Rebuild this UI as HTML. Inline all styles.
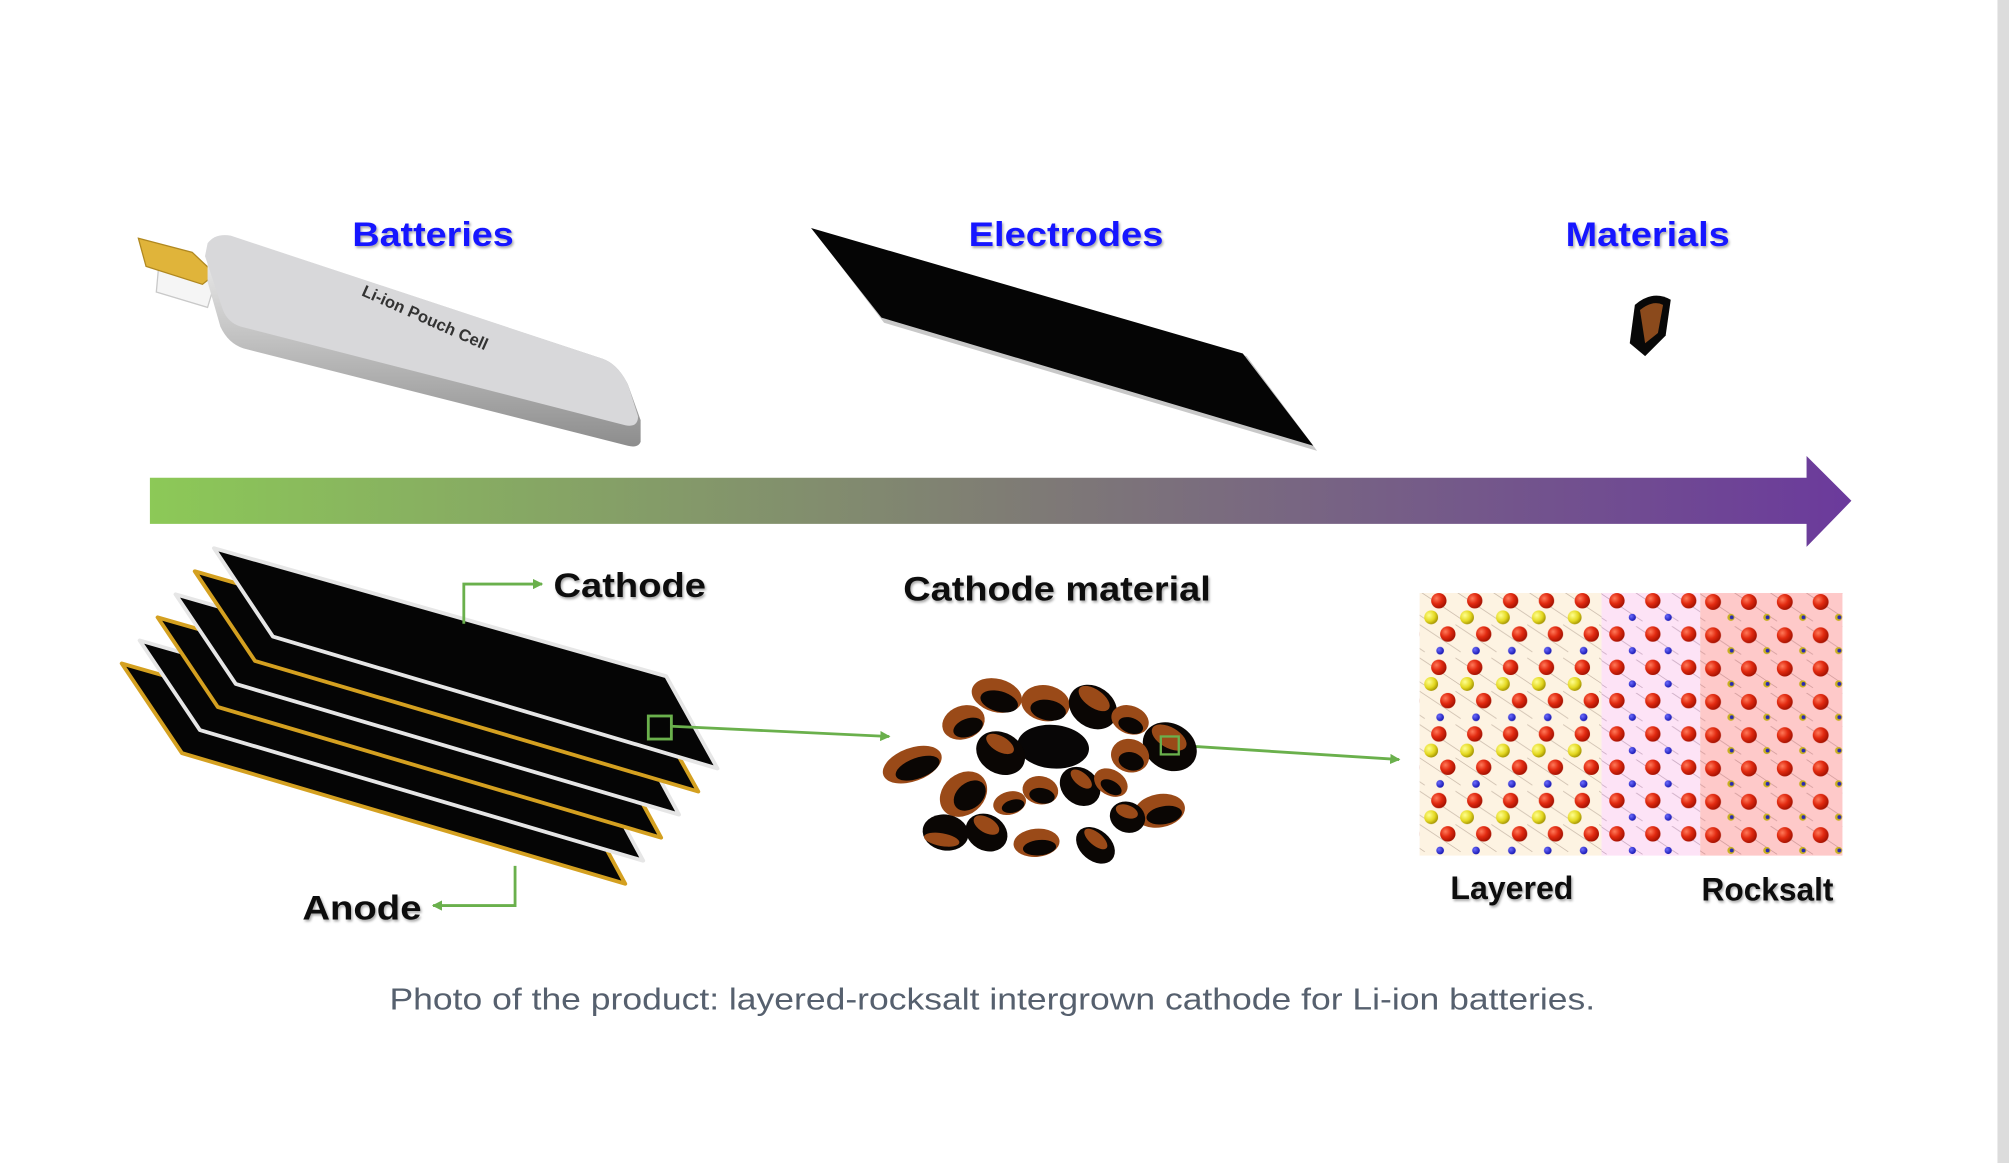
<!DOCTYPE html>
<html><head><meta charset="utf-8"><style>
html,body{margin:0;padding:0;background:#fff;}
svg{display:block;}
text{font-family:"Liberation Sans",Arial,sans-serif;}
</style></head><body>
<svg width="2009" height="1163" viewBox="0 0 1568 908" preserveAspectRatio="none" xmlns="http://www.w3.org/2000/svg">
<defs>
<linearGradient id="bar" x1="0" x2="1" y1="0" y2="0">
<stop offset="0" stop-color="#8cc957"/><stop offset="0.5" stop-color="#7f7d74"/><stop offset="1" stop-color="#6b3a9c"/>
</linearGradient>
<linearGradient id="cellside" x1="0" x2="0" y1="0" y2="1">
<stop offset="0" stop-color="#f4f4f4"/><stop offset="1" stop-color="#8d8d8d"/>
</linearGradient>
<radialGradient id="red" cx="0.35" cy="0.35" r="0.7"><stop offset="0" stop-color="#ff7a5a"/><stop offset="0.5" stop-color="#e22a10"/><stop offset="1" stop-color="#a01000"/></radialGradient>
<radialGradient id="yel" cx="0.35" cy="0.35" r="0.7"><stop offset="0" stop-color="#ffff90"/><stop offset="0.6" stop-color="#e4d820"/><stop offset="1" stop-color="#a09000"/></radialGradient>
<radialGradient id="blu" cx="0.35" cy="0.35" r="0.7"><stop offset="0" stop-color="#6c6cff"/><stop offset="1" stop-color="#1414b0"/></radialGradient>
<pattern id="lay" x="1108" y="463" width="28" height="52" patternUnits="userSpaceOnUse">
<path d="M-4 -4 L32 20 M-4 22 L32 46 M-4 48 L32 72 M-32 -4 L4 20 M-32 22 L4 46 M-4 -30 L32 -6" stroke="#c8b8a8" stroke-width="0.6" fill="none"/>
<circle cx="15" cy="6" r="6" fill="url(#red)"/>
<circle cx="9" cy="19" r="5.4" fill="url(#yel)"/>
<circle cx="22" cy="32" r="6" fill="url(#red)"/>
<circle cx="16" cy="45" r="3" fill="url(#blu)"/>
</pattern>
<pattern id="pink" x="1250" y="463" width="28" height="26" patternUnits="userSpaceOnUse">
<path d="M-4 -2 L32 22 M-32 -2 L4 22 M24 -2 L60 22" stroke="#c8a8c0" stroke-width="0.6" fill="none"/>
<circle cx="12" cy="6" r="6" fill="url(#red)"/>
<circle cx="24" cy="19" r="2.8" fill="url(#blu)"/>
</pattern>
<pattern id="rock" x="1327" y="463" width="28" height="26" patternUnits="userSpaceOnUse">
<path d="M-4 -2 L32 22 M-32 -2 L4 22 M24 -2 L60 22" stroke="#d09a9a" stroke-width="0.6" fill="none"/>
<circle cx="10" cy="7" r="6.2" fill="url(#red)"/>
<circle cx="24" cy="19" r="2.8" fill="#c8b020"/>
<circle cx="24.6" cy="19" r="1.5" fill="#2a2ab0"/>
</pattern>
<marker id="ah" markerWidth="8" markerHeight="8" refX="7" refY="4" orient="auto" markerUnits="userSpaceOnUse"><path d="M0 0 L8 4 L0 8 Z" fill="#6ab04c"/></marker>
<filter id="sh" x="-5%" y="-20%" width="110%" height="140%"><feDropShadow dx="1" dy="1.5" stdDeviation="1" flood-color="#000" flood-opacity="0.35"/></filter>
</defs>

<rect x="1559" y="0" width="9" height="908" fill="#dcdcdc"/>

<g font-weight="bold" font-size="27" fill="#1414ff" text-anchor="middle" filter="url(#sh)">
<text x="338" y="192" textLength="126" lengthAdjust="spacingAndGlyphs">Batteries</text>
<text x="832" y="192" textLength="152" lengthAdjust="spacingAndGlyphs">Electrodes</text>
<text x="1286" y="192" textLength="128" lengthAdjust="spacingAndGlyphs">Materials</text>
</g>

<polygon points="124,206 168,220 162,240 122,228" fill="#f5f5f5" stroke="#c9c9c9" stroke-width="1"/>
<polygon points="108,186 150,197 168,214 158,222 114,208" fill="#e0b43a" stroke="#b08820" stroke-width="1"/>
<path d="M162 190 Q168 182 180 184 L470 280 Q482 284 490 300 L500 328 L500 345 Q498 350 490 348 L190 272 Q178 268 172 255 L162 220 Z" fill="url(#cellside)"/>
<path d="M162 190 Q168 182 180 184 L470 280 Q482 284 490 300 L498 325 Q498 334 488 332 L188 255 Q178 252 174 242 L160 200 Z" fill="#d8d8da"/>
<text x="330" y="252" font-size="13" font-weight="bold" fill="#333" transform="rotate(24 330 252)" text-anchor="middle">Li-ion Pouch Cell</text>

<polygon points="635,180 973,278 1028,352 690,252" fill="#c8c8c8"/>
<polygon points="633,178 970,276 1025,348 688,248" fill="#050505"/>

<path d="M1276 238 Q1290 226 1304 234 L1300 262 L1284 278 L1272 268 Z" fill="#080808"/>
<path d="M1280 242 Q1290 234 1298 238 L1294 260 L1284 268 Z" fill="#8b4a1c"/>

<polygon points="117,373 1410,373 1410,356 1445,391 1410,427 1410,409 117,409" fill="url(#bar)"/>

<g stroke-width="3" stroke-linejoin="round">
<polygon points="95,518 450,620 488,690 142,588" fill="#050505" stroke="#d4a020"/>
<polygon points="109,500 464,602 502,672 156,570" fill="#050505" stroke="#e6e6e6"/>
<polygon points="123,482 478,584 516,654 170,552" fill="#050505" stroke="#d4a020"/>
<polygon points="137,464 492,566 530,636 184,534" fill="#050505" stroke="#e6e6e6"/>
<polygon points="152,446 506,548 545,618 199,516" fill="#050505" stroke="#d4a020"/>
<polygon points="167,428 520,528 560,600 213,497" fill="#050505" stroke="#e6e6e6"/>
</g>

<g stroke="#6ab04c" stroke-width="2.2" fill="none">
<polyline points="362,487 362,456 423,456" marker-end="url(#ah)"/>
<polyline points="402,676 402,707 338,707" marker-end="url(#ah)"/>
<rect x="506" y="559" width="18" height="18"/>
<line x1="524" y1="567" x2="694" y2="575" marker-end="url(#ah)"/>
<line x1="920" y1="582" x2="1092" y2="593" marker-end="url(#ah)"/>
</g>
<g font-weight="bold" font-size="27" fill="#111" filter="url(#sh)">
<text x="432" y="466" textLength="119" lengthAdjust="spacingAndGlyphs">Cathode</text>
<text x="236" y="718" textLength="93" lengthAdjust="spacingAndGlyphs">Anode</text>
<text x="705" y="469" textLength="240" lengthAdjust="spacingAndGlyphs">Cathode material</text>
</g>

<g>
<g transform="translate(778,543) rotate(15)"><ellipse rx="20" ry="13" fill="#9a4a18"/><ellipse cx="3" cy="4" rx="15" ry="8" fill="#0a0604"/></g>
<g transform="translate(816,549) rotate(10)"><ellipse rx="19" ry="14" fill="#9a4a18"/><ellipse cx="3" cy="5" rx="14" ry="8" fill="#0a0604"/></g>
<g transform="translate(853,552) rotate(35)"><ellipse rx="20" ry="16" fill="#0a0604"/><ellipse cx="-3" cy="-6" rx="14" ry="7" fill="#9a4a18"/></g>
<g transform="translate(752,564) rotate(-20)"><ellipse rx="17" ry="13" fill="#9a4a18"/><ellipse cx="2" cy="5" rx="12" ry="7" fill="#0a0604"/></g>
<g transform="translate(712,597) rotate(-20)"><ellipse rx="24" ry="13" fill="#9a4a18"/><ellipse cx="3" cy="4" rx="18" ry="8" fill="#0a0604"/></g>
<g transform="translate(822,583) rotate(5)"><ellipse rx="28" ry="17" fill="#080606"/></g>
<g transform="translate(781,588) rotate(30)"><ellipse rx="20" ry="16" fill="#0a0604"/><ellipse cx="-4" cy="-6" rx="12" ry="6" fill="#9a4a18"/></g>
<g transform="translate(882,562) rotate(20)"><ellipse rx="15" ry="11" fill="#9a4a18"/><ellipse cx="2" cy="4" rx="10" ry="6" fill="#0a0604"/></g>
<g transform="translate(913,583) rotate(30)"><ellipse rx="22" ry="18" fill="#0a0604"/><ellipse cx="-4" cy="-6" rx="15" ry="8" fill="#9a4a18"/></g>
<g transform="translate(882,590) rotate(15)"><ellipse rx="15" ry="13" fill="#9a4a18"/><ellipse cx="2" cy="4" rx="10" ry="7" fill="#0a0604"/></g>
<g transform="translate(752,620) rotate(-40)"><ellipse rx="20" ry="16" fill="#9a4a18"/><ellipse cx="3" cy="4" rx="14" ry="10" fill="#0a0604"/></g>
<g transform="translate(788,627) rotate(-15)"><ellipse rx="13" ry="9" fill="#9a4a18"/><ellipse cx="2" cy="3" rx="9" ry="5" fill="#0a0604"/></g>
<g transform="translate(812,617) rotate(10)"><ellipse rx="14" ry="11" fill="#9a4a18"/><ellipse cx="2" cy="4" rx="10" ry="6" fill="#0a0604"/></g>
<g transform="translate(843,614) rotate(40)"><ellipse rx="17" ry="14" fill="#0a0604"/><ellipse cx="-3" cy="-5" rx="10" ry="5" fill="#9a4a18"/></g>
<g transform="translate(867,611) rotate(30)"><ellipse rx="14" ry="10" fill="#9a4a18"/><ellipse cx="2" cy="3" rx="9" ry="5" fill="#0a0604"/></g>
<g transform="translate(905,633) rotate(-10)"><ellipse rx="20" ry="13" fill="#9a4a18"/><ellipse cx="3" cy="4" rx="14" ry="7" fill="#0a0604"/></g>
<g transform="translate(880,638) rotate(20)"><ellipse rx="14" ry="12" fill="#0a0604"/><ellipse cx="-2" cy="-4" rx="9" ry="5" fill="#9a4a18"/></g>
<g transform="translate(738,650) rotate(10)"><ellipse rx="18" ry="14" fill="#0a0604"/><ellipse cx="-2" cy="6" rx="14" ry="5" fill="#9a4a18"/></g>
<g transform="translate(770,650) rotate(30)"><ellipse rx="17" ry="14" fill="#0a0604"/><ellipse cx="-3" cy="-5" rx="11" ry="6" fill="#9a4a18"/></g>
<g transform="translate(809,658) rotate(-5)"><ellipse rx="18" ry="11" fill="#9a4a18"/><ellipse cx="2" cy="4" rx="13" ry="6" fill="#0a0604"/></g>
<g transform="translate(855,660) rotate(40)"><ellipse rx="17" ry="12" fill="#0a0604"/><ellipse cx="-3" cy="-4" rx="11" ry="5" fill="#9a4a18"/></g>
</g>
<rect x="906" y="575" width="14" height="14" fill="none" stroke="#6ab04c" stroke-width="1.8"/>

<rect x="1108" y="463" width="142" height="205" fill="#fdf3e2"/>
<rect x="1250" y="463" width="77" height="205" fill="#fde3f6"/>
<rect x="1327" y="463" width="111" height="205" fill="#fec9c9"/>
<rect x="1108" y="463" width="142" height="205" fill="url(#lay)"/>
<rect x="1250" y="463" width="77" height="205" fill="url(#pink)"/>
<rect x="1327" y="463" width="111" height="205" fill="url(#rock)"/>

<g font-weight="bold" font-size="25" fill="#111" filter="url(#sh)">
<text x="1132" y="702" textLength="96" lengthAdjust="spacingAndGlyphs">Layered</text>
<text x="1328" y="703" textLength="103" lengthAdjust="spacingAndGlyphs">Rocksalt</text>
</g>

<text x="304" y="788" font-size="24" fill="#56606e" textLength="941" lengthAdjust="spacingAndGlyphs">Photo of the product: layered-rocksalt intergrown cathode for Li-ion batteries.</text>
</svg>
</body></html>
